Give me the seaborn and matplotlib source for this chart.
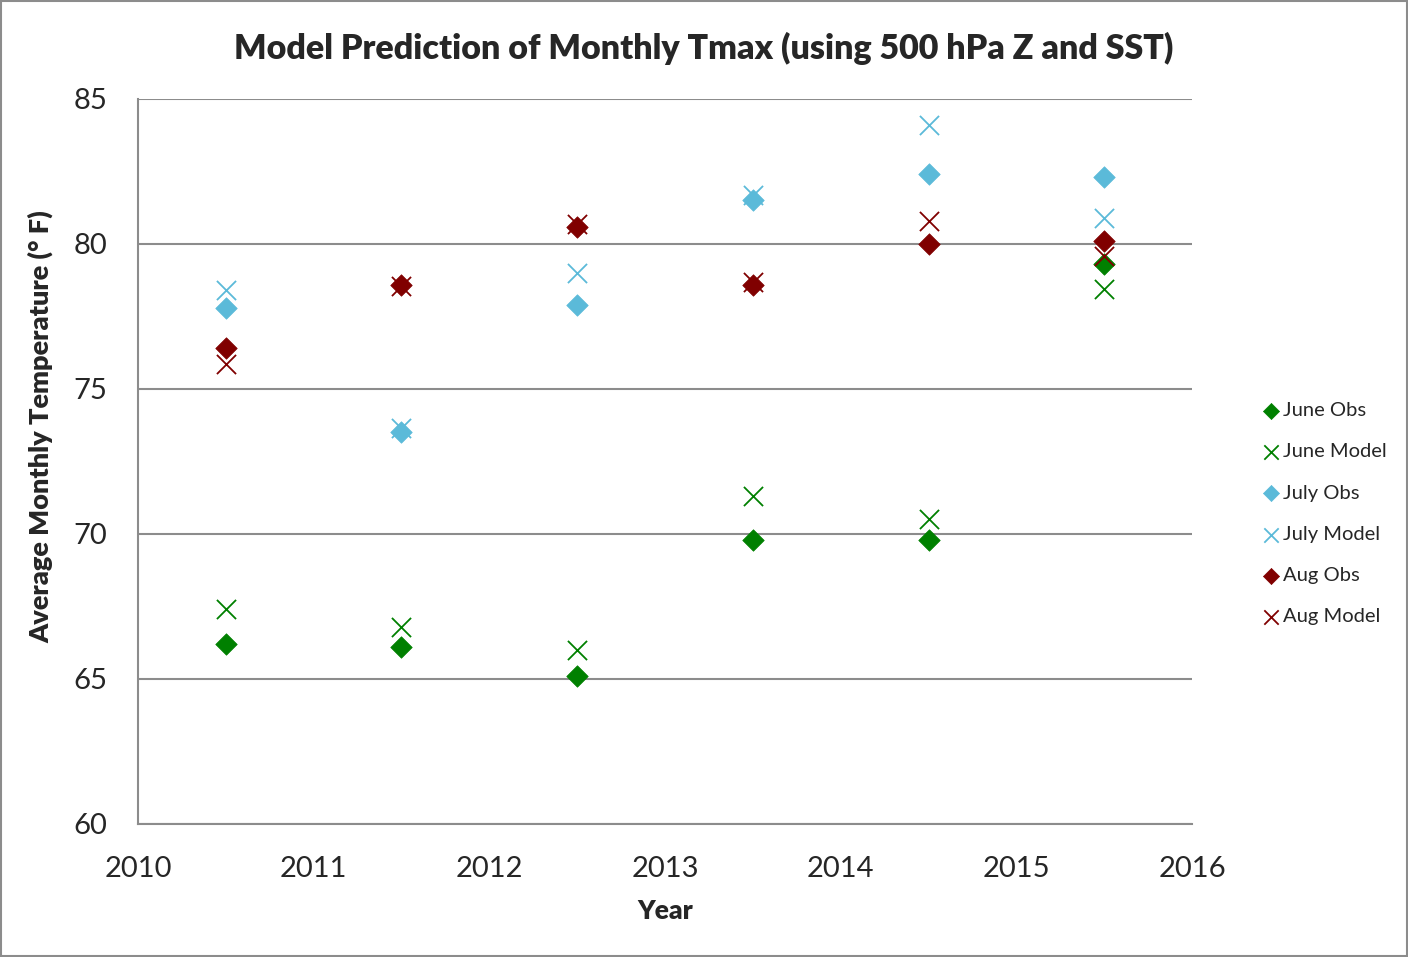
import numpy as np
import pandas as pd
import matplotlib.pyplot as plt
import seaborn as sns

years = [2010.5, 2011.5, 2012.5, 2013.5, 2014.5, 2015.5]

june_obs = [66.2, 66.1, 65.1, 69.8, 69.8, 79.3]
june_model = [67.4, 66.8, 66.0, 71.3, 70.5, 78.45]
july_obs = [77.8, 73.5, 77.9, 81.5, 82.4, 82.3]
july_model = [78.4, 73.65, 79.0, 81.7, 84.1, 80.9]
aug_obs = [76.4, 78.6, 80.6, 78.6, 80.0, 80.1]
aug_model = [75.85, 78.55, 80.7, 78.7, 80.8, 79.6]

series = [
    ("June Obs", june_obs, "#008000", "D"),
    ("June Model", june_model, "#008000", "x"),
    ("July Obs", july_obs, "#5bbad9", "D"),
    ("July Model", july_model, "#5bbad9", "x"),
    ("Aug Obs", aug_obs, "#800000", "D"),
    ("Aug Model", aug_model, "#800000", "x"),
]

sns.set_style("white")
plt.rcParams["font.family"] = ["Lato", "DejaVu Sans"]

fig = plt.figure(figsize=(14.08, 9.57), dpi=100)
ax = fig.add_axes([0.098, 0.139, 0.7486, 0.7576])

for nom, valeurs, couleur, marqueur in series:
    df = pd.DataFrame({"annee": years, "temp": valeurs})
    if marqueur == "D":
        sns.scatterplot(data=df, x="annee", y="temp", ax=ax, color=couleur, marker="D",
                        s=120, edgecolor=couleur, linewidth=0.5, label=nom, zorder=3)
    else:
        sns.scatterplot(data=df, x="annee", y="temp", ax=ax, color=couleur, marker="x",
                        s=190, linewidth=1.3, label=nom, zorder=3)

ax.set_xlim(2010, 2016)
ax.set_ylim(60, 85)
ax.set_xticks(range(2010, 2017))
ax.set_yticks(range(60, 86, 5))
ax.yaxis.grid(True, color="#8c8c8c", linewidth=1.5)
ax.set_axisbelow(True)
for cote in ["top", "right"]:
    ax.spines[cote].set_visible(False)
for cote in ["left", "bottom"]:
    ax.spines[cote].set_color("#8c8c8c")
    ax.spines[cote].set_linewidth(1.5)
ax.tick_params(axis="both", which="both", direction="out", length=9, width=1.5,
               color="#8c8c8c", labelsize=21, pad=6)
ax.tick_params(axis="x", pad=14)
ax.tick_params(axis="y", pad=13)

ax.set_xlabel("Year", fontsize=19, fontweight="heavy", labelpad=12)
ax.set_ylabel("Average Monthly Temperature (° F)", fontsize=19.5, fontweight="heavy")
ax.yaxis.set_label_coords(-0.08, 0.548)
fig.suptitle("Model Prediction of Monthly Tmax (using 500 hPa Z and SST)",
             fontsize=24.5, fontweight="heavy", x=0.5, y=0.967)

leg = ax.legend(loc="center left", bbox_to_anchor=(1.046, 0.428), frameon=False,
                fontsize=14.5, labelspacing=1.2, handletextpad=0.0, markerscale=0.75,
                handlelength=1.2)

# cadre gris autour de la figure
fig.patches.append(plt.Rectangle((0.001, 0.001), 0.998, 0.998, transform=fig.transFigure,
                                 fill=False, edgecolor="#8c8c8c", linewidth=1.5))

plt.savefig("out.png", dpi=100)
